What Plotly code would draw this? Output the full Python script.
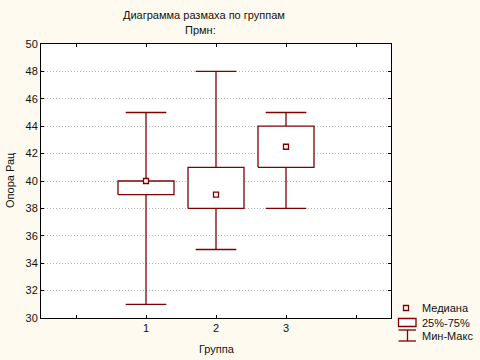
import plotly.graph_objects as go

# ---- data ----
groups = [1, 2, 3]
mins = [31, 35, 38]
q1s = [39, 38, 41]
medians = [40, 39, 42.5]
q3s = [40, 41, 44]
maxs = [45, 48, 45]
xtick_vals = [1, 2, 3]
ytick_vals = [30, 32, 34, 36, 38, 40, 42, 44, 46, 48, 50]

RED = "#800000"
BG = "#FFFAEF"
FONT = "Liberation Sans, Arial, sans-serif"

BOX_HALF = 0.4
CAP_HALF = 0.29

# plot area in pixels (for paper-coordinate helpers)
L, R, T, B = 41, 391, 44, 318
W, H = 480, 360


def px(x):
    return (x - L) / (R - L)


def py(y):
    return (B - y) / (B - T)


# build box outlines and whiskers from the data
bx, by = [], []
wx, wy = [], []
for g, lo, a, b, hi in zip(groups, mins, q1s, q3s, maxs):
    bx += [g - BOX_HALF, g + BOX_HALF, g + BOX_HALF, g - BOX_HALF, g - BOX_HALF, None]
    by += [a, a, b, b, a, None]
    wx += [g, g, None, g, g, None,
           g - CAP_HALF, g + CAP_HALF, None, g - CAP_HALF, g + CAP_HALF, None]
    wy += [b, hi, None, a, lo, None, hi, hi, None, lo, lo, None]

fig = go.Figure()
fig.add_trace(go.Scatter(x=wx, y=wy, mode="lines",
                         line=dict(color=RED, width=1.3),
                         hoverinfo="skip", showlegend=False))
fig.add_trace(go.Scatter(x=bx, y=by, mode="lines", fill="toself",
                         fillcolor="white",
                         line=dict(color=RED, width=1.3),
                         hoverinfo="skip", showlegend=False))
fig.add_trace(go.Scatter(x=groups, y=medians, mode="markers",
                         marker=dict(symbol="square", size=5, color="white",
                                     line=dict(color=RED, width=1.3)),
                         showlegend=False))

fig.update_layout(
    width=W, height=H,
    margin=dict(l=L, r=W - R, t=T, b=H - B),
    paper_bgcolor=BG, plot_bgcolor="white",
    font=dict(family=FONT, size=11, color="#111111"),
    showlegend=False,
)
fig.update_xaxes(
    range=[-0.5, 4.5], tickmode="array", tickvals=[0, 1, 2, 3, 4],
    ticktext=["", "1", "2", "3", ""],
    ticks="inside", ticklen=3, tickcolor="black",
    showline=True, linecolor="black", linewidth=1, mirror="ticks",
    showgrid=False, zeroline=False,
    tickfont=dict(size=11),
)
fig.update_yaxes(
    range=[30, 50], tickmode="array", tickvals=ytick_vals,
    ticks="inside", ticklen=3, tickcolor="black",
    showline=True, linecolor="black", linewidth=1, mirror="ticks",
    showgrid=True, gridcolor="#b4b4b4", griddash="1px,2px", gridwidth=1,
    zeroline=False, tickfont=dict(size=11),
)

ann = [
    dict(text="Диаграмма размаха по группам", x=px(204), y=py(15)),
    dict(text="Прмн:", x=px(200), y=py(30)),
    dict(text="Группа", x=px(217), y=py(349)),
    dict(text="Опора Рац", x=px(10), y=py(180), textangle=-90),
]
for a in ann:
    fig.add_annotation(xref="paper", yref="paper", showarrow=False,
                       xanchor="center", yanchor="middle",
                       font=dict(size=11, family=FONT, color="#111111"), **a)

# legend
leg_items = [("Медиана", 307.5), ("25%-75%", 322.5), ("Мин-Макс", 335.5)]
for label, yy in leg_items:
    fig.add_annotation(xref="paper", yref="paper", showarrow=False,
                       xanchor="left", yanchor="middle", x=px(420), y=py(yy),
                       text=label, font=dict(size=11, family=FONT, color="#111111"))

line = dict(color=RED, width=1.3)
fig.add_shape(type="rect", xref="paper", yref="paper",
              x0=px(403.5), x1=px(408.5), y0=py(305.5), y1=py(310.5),
              line=line, fillcolor="white")
fig.add_shape(type="rect", xref="paper", yref="paper",
              x0=px(398.5), x1=px(416), y0=py(318.5), y1=py(326.5),
              line=line, fillcolor="white")
fig.add_shape(type="line", xref="paper", yref="paper",
              x0=px(398.5), x1=px(416), y0=py(330), y1=py(330), line=line)
fig.add_shape(type="line", xref="paper", yref="paper",
              x0=px(407.5), x1=px(407.5), y0=py(330), y1=py(341), line=line)
fig.add_shape(type="line", xref="paper", yref="paper",
              x0=px(398.5), x1=px(416), y0=py(341), y1=py(341), line=line)

fig.write_html("out.html",
               config={"displayModeBar": False},
               post_script="document.body.style.margin='0';document.body.style.overflow='hidden';")
